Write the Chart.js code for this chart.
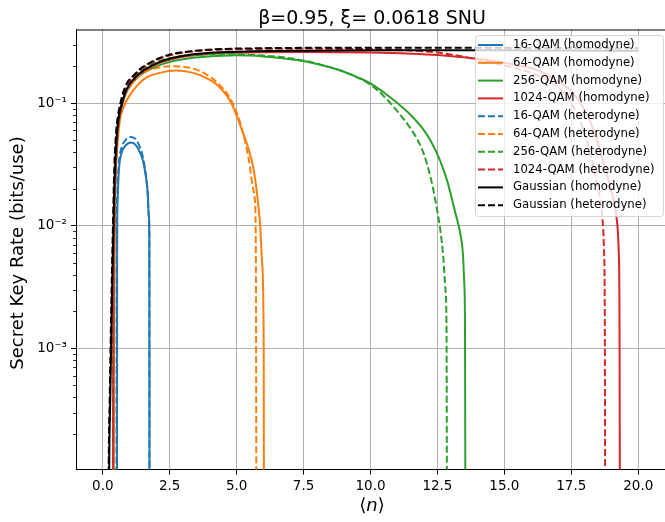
<!DOCTYPE html>
<html>
<head>
<meta charset="utf-8">
<script src="https://cdn.jsdelivr.net/npm/chart.js@4/dist/chart.umd.min.js"></script>
<style>
  html, body { margin: 0; padding: 0; background: #fff; }
  canvas { display: block; }
</style>
</head>
<body>
<canvas id="chart" width="665" height="522"></canvas>
<script>
// mean photon number <n> and secret key rate (bits/use) per curve
const qam16HomX = [0.53, 0.535, 0.55, 0.60, 0.70, 0.85, 1.06, 1.25, 1.40, 1.50, 1.60, 1.68, 1.72, 1.74, 1.745]
const qam16HomY = [1e-5, 0.005, 0.015, 0.028, 0.039, 0.045, 0.0477, 0.045, 0.039, 0.034, 0.026, 0.0184, 0.012, 0.008, 1e-5]

const qam64HomX = [0.40, 0.42, 0.44, 0.47, 0.53, 0.63, 0.80, 1.00, 1.30, 1.62, 2.20, 2.73, 3.30, 3.80, 4.33, 4.80, 5.19, 5.45, 5.62, 5.74, 5.82, 5.88, 5.95, 6.01, 6.025]
const qam64HomY = [1e-5, 1e-3, 0.006, 0.02, 0.04, 0.07, 0.095, 0.115, 0.14, 0.161, 0.178, 0.184, 0.178, 0.163, 0.137, 0.1, 0.061, 0.042, 0.03, 0.02, 0.014, 0.01, 0.005, 0.0012, 1e-5]

const qam256HomX = [0.38, 0.40, 0.42, 0.45, 0.49, 0.54, 0.61, 0.70, 0.80, 0.95, 1.15, 1.45, 1.80, 2.15, 2.55, 3.25, 4.45, 5.0, 6.0, 7.0, 7.5, 8.0, 8.8, 9.5, 10.0, 10.5, 11.0, 11.5, 12.0, 12.25, 12.6, 12.87, 13.17, 13.36, 13.45, 13.50, 13.53, 13.55]
const qam256HomY = [1e-5, 1e-3, 0.006, 0.017, 0.032, 0.052, 0.073, 0.092, 0.11, 0.13, 0.15, 0.172, 0.19, 0.205, 0.218, 0.232, 0.243, 0.245, 0.24, 0.228, 0.22, 0.208, 0.187, 0.163, 0.145, 0.122, 0.1, 0.08, 0.06, 0.049, 0.034, 0.023, 0.0127, 0.0085, 0.006, 0.0035, 0.0015, 1e-5]

const qam1024HomX = [0.38, 0.40, 0.42, 0.45, 0.49, 0.54, 0.61, 0.70, 0.80, 0.95, 1.15, 1.45, 1.80, 2.15, 2.55, 3.25, 4.45, 5.5, 7.5, 10.0, 11.5, 12.5, 13.5, 14.5, 15.5, 16.2, 16.9, 17.5, 18.0, 18.4, 18.7, 19.0, 19.19, 19.27, 19.30, 19.32]
const qam1024HomY = [1e-5, 1e-3, 0.006, 0.017, 0.032, 0.052, 0.074, 0.093, 0.112, 0.133, 0.153, 0.177, 0.197, 0.214, 0.228, 0.243, 0.255, 0.259, 0.261, 0.258, 0.253, 0.247, 0.236, 0.222, 0.203, 0.187, 0.155, 0.125, 0.088, 0.055, 0.033, 0.019, 0.0117, 0.0063, 0.002, 1e-5]

const qam16HetX = [0.51, 0.52, 0.54, 0.60, 0.70, 0.85, 1.06, 1.25, 1.40, 1.50, 1.60, 1.68, 1.72, 1.74, 1.745]
const qam16HetY = [1e-5, 0.005, 0.017, 0.032, 0.043, 0.05, 0.0528, 0.05, 0.043, 0.036, 0.027, 0.018, 0.012, 0.008, 1e-5]

const qam64HetX = [0.39, 0.41, 0.43, 0.47, 0.55, 0.70, 0.85, 1.00, 1.30, 1.60, 2.20, 2.60, 3.20, 3.80, 4.33, 4.80, 5.18, 5.45, 5.62, 5.68, 5.72, 5.74]
const qam64HetY = [1e-5, 1e-3, 0.01, 0.03, 0.06, 0.1, 0.12, 0.135, 0.162, 0.18, 0.197, 0.2, 0.195, 0.175, 0.143, 0.105, 0.064, 0.035, 0.02, 0.0163, 0.005, 1e-5]

const qam256HetX = [0.37, 0.39, 0.41, 0.44, 0.48, 0.53, 0.60, 0.68, 0.78, 0.92, 1.12, 1.42, 1.76, 2.12, 2.5, 3.25, 4.45, 5.0, 6.0, 7.0, 8.0, 9.0, 9.8, 10.3, 10.65, 11.0, 11.5, 11.76, 12.0, 12.24, 12.45, 12.6, 12.72, 12.8, 12.84, 12.86]
const qam256HetY = [1e-5, 1e-3, 0.007, 0.02, 0.037, 0.058, 0.08, 0.099, 0.118, 0.14, 0.16, 0.183, 0.203, 0.22, 0.232, 0.245, 0.252, 0.25, 0.244, 0.232, 0.21, 0.18, 0.15, 0.125, 0.105, 0.086, 0.062, 0.05, 0.038, 0.025, 0.015, 0.0095, 0.0055, 0.003, 0.0014, 1e-5]

const qam1024HetX = [0.37, 0.39, 0.41, 0.44, 0.48, 0.53, 0.60, 0.68, 0.78, 0.92, 1.12, 1.42, 1.76, 2.12, 2.5, 3.25, 4.45, 5.5, 7.5, 10.0, 11.5, 12.5, 13.5, 14.5, 15.5, 16.2, 17.0, 17.5, 17.9, 18.2, 18.45, 18.66, 18.72, 18.75, 18.77]
const qam1024HetY = [1e-5, 1e-3, 0.007, 0.02, 0.037, 0.058, 0.08, 0.099, 0.118, 0.142, 0.163, 0.188, 0.21, 0.23, 0.245, 0.262, 0.273, 0.276, 0.278, 0.275, 0.268, 0.258, 0.238, 0.215, 0.19, 0.17, 0.135, 0.1, 0.065, 0.04, 0.022, 0.0117, 0.0065, 0.002, 1e-5]

const gaussHomX = [0.22, 0.24, 0.28, 0.31, 0.36, 0.40, 0.43, 0.47, 0.54, 0.61, 0.70, 0.80, 0.95, 1.15, 1.45, 1.80, 2.15, 2.55, 3.25, 4.45, 5.5, 7.5, 10.0, 12.5, 15.0, 17.5, 20.0]
const gaussHomY = [1e-5, 1e-4, 4e-4, 1e-3, 4e-3, 0.01, 0.02, 0.034, 0.06, 0.08, 0.097, 0.115, 0.137, 0.156, 0.18, 0.2, 0.218, 0.232, 0.248, 0.26, 0.264, 0.267, 0.269, 0.269, 0.269, 0.268, 0.267]

const gaussHetX = [0.20, 0.22, 0.26, 0.29, 0.34, 0.38, 0.41, 0.44, 0.51, 0.58, 0.66, 0.75, 0.90, 1.12, 1.40, 1.74, 2.10, 2.49, 3.23, 4.45, 5.46, 7.5, 10.0, 12.5, 15.0, 17.5, 20.0]
const gaussHetY = [1e-5, 1e-4, 4e-4, 1e-3, 4e-3, 0.01, 0.02, 0.034, 0.062, 0.082, 0.1, 0.12, 0.145, 0.165, 0.19, 0.212, 0.232, 0.248, 0.264, 0.276, 0.279, 0.282, 0.283, 0.283, 0.282, 0.281, 0.28]

const xTicks = [0, 2.5, 5, 7.5, 10, 12.5, 15, 17.5, 20]
const yTicks = [1e-3, 1e-2, 1e-1]

const FONT = 'DejaVu Sans'
const DASH = [7, 3]
const C = { blue: '#1f77b4', orange: '#ff7f0e', green: '#2ca02c', red: '#d62728', black: '#000000' }

const series = [
    { label: '16-QAM (homodyne)', xs: qam16HomX, ys: qam16HomY, color: C.blue, dash: [] },
    { label: '64-QAM (homodyne)', xs: qam64HomX, ys: qam64HomY, color: C.orange, dash: [] },
    { label: '256-QAM (homodyne)', xs: qam256HomX, ys: qam256HomY, color: C.green, dash: [] },
    { label: '1024-QAM (homodyne)', xs: qam1024HomX, ys: qam1024HomY, color: C.red, dash: [] },
    { label: '16-QAM (heterodyne)', xs: qam16HetX, ys: qam16HetY, color: C.blue, dash: DASH },
    { label: '64-QAM (heterodyne)', xs: qam64HetX, ys: qam64HetY, color: C.orange, dash: DASH },
    { label: '256-QAM (heterodyne)', xs: qam256HetX, ys: qam256HetY, color: C.green, dash: DASH },
    { label: '1024-QAM (heterodyne)', xs: qam1024HetX, ys: qam1024HetY, color: C.red, dash: DASH },
    { label: 'Gaussian (homodyne)', xs: gaussHomX, ys: gaussHomY, color: C.black, dash: [] },
    { label: 'Gaussian (heterodyne)', xs: gaussHetX, ys: gaussHetY, color: C.black, dash: DASH },
]

const SUP = { '-': '\u207B', '1': '\u00B9', '2': '\u00B2', '3': '\u00B3', '4': '\u2074' }
const powLabel = (v) => '10' + String(Math.round(Math.log10(v))).split('').map((c) => SUP[c]).join('')

// title, axis labels, top spine, minor ticks and the legend box
const decorations = {
    id: 'decorations',
    afterDatasetsDraw(chart) {
        const { ctx, chartArea: a, scales } = chart
        const y = scales.y

        ctx.save()
        ctx.strokeStyle = '#000'
        ctx.lineWidth = 1
        ctx.beginPath()
        ctx.moveTo(a.left, a.top + 0.5)
        ctx.lineTo(a.right, a.top + 0.5)
        ctx.stroke()

        // minor log ticks on the left spine
        ctx.lineWidth = 0.8
        for (let e = -4; e <= 0; e++) {
            for (let m = 2; m <= 9; m++) {
                const v = m * Math.pow(10, e)
                if (v <= y.min || v >= y.max) continue
                const py = Math.round(y.getPixelForValue(v)) + 0.5
                ctx.beginPath()
                ctx.moveTo(a.left - 3, py)
                ctx.lineTo(a.left, py)
                ctx.stroke()
            }
        }

        // legend
        const lx = 475.5, ly = 35.5, lw = 188, lh = 181
        ctx.beginPath()
        ctx.roundRect(lx, ly, lw, lh, 3)
        ctx.fillStyle = 'rgba(255,255,255,0.8)'
        ctx.fill()
        ctx.strokeStyle = 'rgba(204,204,204,0.8)'
        ctx.lineWidth = 1
        ctx.stroke()

        ctx.font = `11.7px "${FONT}"`
        ctx.textBaseline = 'middle'
        ctx.textAlign = 'left'
        series.forEach((s, i) => {
            const ry = 45 + i * 17.8
            ctx.strokeStyle = s.color
            ctx.lineWidth = 2
            ctx.setLineDash(s.dash)
            ctx.beginPath()
            ctx.moveTo(478, ry)
            ctx.lineTo(503, ry)
            ctx.stroke()
            ctx.setLineDash([])
            ctx.fillStyle = '#000'
            ctx.fillText(s.label, 513, ry)
        })
        ctx.restore()
    },
    afterDraw(chart) {
        const { ctx } = chart
        ctx.save()
        ctx.fillStyle = '#000'
        ctx.textBaseline = 'alphabetic'
        ctx.textAlign = 'center'
        ctx.font = `19px "${FONT}"`
        ctx.fillText('β=0.95, ξ= 0.0618 SNU', 372, 24)

        // ⟨n⟩ with an italic n
        ctx.textAlign = 'left'
        const up = `18px "${FONT}"`
        const it = `italic 18px "${FONT}"`
        ctx.font = up
        const wl = ctx.measureText('\u27E8').width
        const wr = ctx.measureText('\u27E9').width
        ctx.font = it
        const wn = ctx.measureText('n').width
        let x0 = 372 - (wl + wn + wr) / 2
        const base = 511
        ctx.font = up
        ctx.fillText('\u27E8', x0, base)
        ctx.font = it
        ctx.fillText('n', x0 + wl, base)
        ctx.font = up
        ctx.fillText('\u27E9', x0 + wl + wn, base)

        ctx.translate(18, 253)
        ctx.rotate(-Math.PI / 2)
        ctx.textAlign = 'center'
        ctx.textBaseline = 'middle'
        ctx.font = `18px "${FONT}"`
        ctx.fillText('Secret Key Rate (bits/use)', 0, 0)
        ctx.restore()
    },
}

new Chart(document.getElementById('chart'), {
    type: 'line',
    data: {
        datasets: series.map((s, i) => ({
            label: s.label,
            data: s.xs.map((x, k) => ({ x, y: s.ys[k] })),
            borderColor: s.color,
            backgroundColor: s.color,
            borderWidth: 2,
            borderDash: s.dash,
            pointRadius: 0,
            fill: false,
            cubicInterpolationMode: 'monotone',
            order: series.length - i,
        })),
    },
    options: {
        responsive: false,
        animation: false,
        devicePixelRatio: 1,
        layout: { padding: { top: 29.5, left: 0, right: -4, bottom: 0 } },
        plugins: {
            legend: { display: false },
            title: { display: false },
            tooltip: { enabled: false },
        },
        scales: {
            x: {
                type: 'linear',
                min: -1,
                max: 21,
                afterBuildTicks: (scale) => {
                    scale.ticks = xTicks.map((v) => ({ value: v }))
                },
                afterFit: (scale) => {
                    scale.height = 52.5
                },
                ticks: {
                    autoSkip: false,
                    maxRotation: 0,
                    padding: 4,
                    color: '#000',
                    font: { family: FONT, size: 13.5 },
                    callback: (v) => Number(v).toFixed(1),
                },
                grid: { color: '#b0b0b0', lineWidth: 1, tickColor: '#000', tickLength: 5 },
                border: { display: true, color: '#000', width: 1 },
            },
            y: {
                type: 'logarithmic',
                min: 1.03e-4,
                max: 0.398,
                afterBuildTicks: (scale) => {
                    scale.ticks = yTicks.map((v) => ({ value: v }))
                },
                afterFit: (scale) => {
                    scale.width = 76
                },
                ticks: {
                    autoSkip: false,
                    padding: 4,
                    color: '#000',
                    font: { family: FONT, size: 13.5 },
                    callback: (v) => powLabel(v),
                },
                grid: { color: '#b0b0b0', lineWidth: 1, tickColor: '#000', tickLength: 5 },
                border: { display: true, color: '#000', width: 1 },
            },
        },
    },
    plugins: [decorations],
})
</script>
</body>
</html>
